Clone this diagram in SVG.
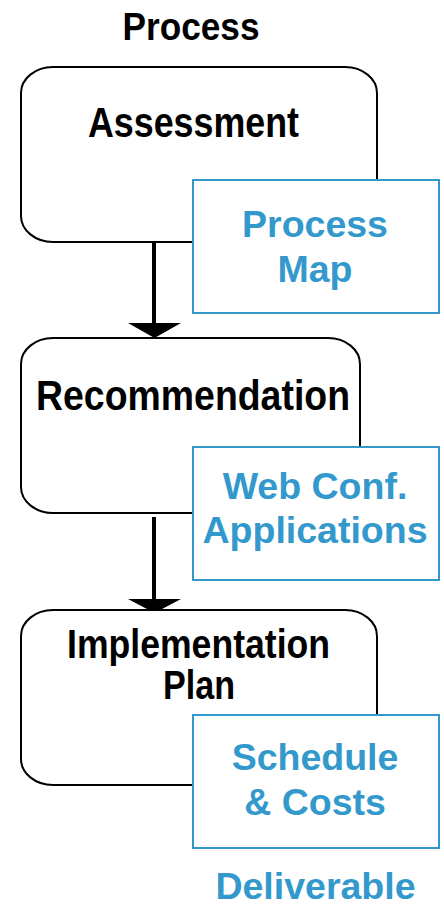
<svg xmlns="http://www.w3.org/2000/svg" width="444" height="905" viewBox="0 0 444 905">
<style>
.step{fill:#fff;stroke:#000;stroke-width:2}
.deliv{fill:#fff;stroke:#3399cc;stroke-width:2}
.bt{font-family:"Liberation Sans",Arial,sans-serif;font-weight:bold;fill:#000;text-anchor:middle}
.blt{font-family:"Liberation Sans",Arial,sans-serif;font-weight:bold;fill:#3399cc;text-anchor:middle;font-size:37.5px}
.conn{stroke:#000;stroke-width:4;fill:none}
</style>
<rect width="444" height="905" fill="#fff"/>
<text class="bt" x="191" y="40" font-size="39" textLength="137" lengthAdjust="spacingAndGlyphs">Process</text>
<g id="connectors">
<line class="conn" x1="154" y1="242" x2="154" y2="324"/>
<path d="M128,323 L181,323 L154.5,338 Z" fill="#000"/>
<line class="conn" x1="154" y1="517" x2="154" y2="600"/>
<path d="M128,599 L181,599 L154.5,613 Z" fill="#000"/>
</g>
<g id="assessment">
<rect class="step" x="21" y="67" width="356" height="175" rx="32" ry="26"/>
<text class="bt" x="193.5" y="137" font-size="42" textLength="211" lengthAdjust="spacingAndGlyphs">Assessment</text>
</g>
<g id="process-map">
<rect class="deliv" x="193" y="180" width="246" height="133"/>
<text class="blt" x="315" y="237">Process</text>
<text class="blt" x="315" y="282">Map</text>
</g>
<g id="recommendation">
<rect class="step" x="21" y="338" width="339" height="175" rx="32" ry="26"/>
<text class="bt" x="193" y="410" font-size="42" textLength="314" lengthAdjust="spacingAndGlyphs">Recommendation</text>
</g>
<g id="web-conf">
<rect class="deliv" x="193" y="447" width="246" height="133"/>
<text class="blt" x="315" y="499">Web Conf.</text>
<text class="blt" x="315" y="543">Applications</text>
</g>
<g id="implementation">
<rect class="step" x="21" y="610" width="356" height="175" rx="32" ry="26"/>
<text class="bt" x="198.5" y="658" font-size="41" textLength="263" lengthAdjust="spacingAndGlyphs">Implementation</text>
<text class="bt" x="199" y="699" font-size="41" textLength="72" lengthAdjust="spacingAndGlyphs">Plan</text>
</g>
<g id="schedule">
<rect class="deliv" x="193" y="715" width="246" height="133"/>
<text class="blt" x="315" y="770">Schedule</text>
<text class="blt" x="315" y="815">&amp; Costs</text>
</g>
<g id="deliverable-label">
<text class="blt" x="315.5" y="899">Deliverable</text>
</g>
</svg>
